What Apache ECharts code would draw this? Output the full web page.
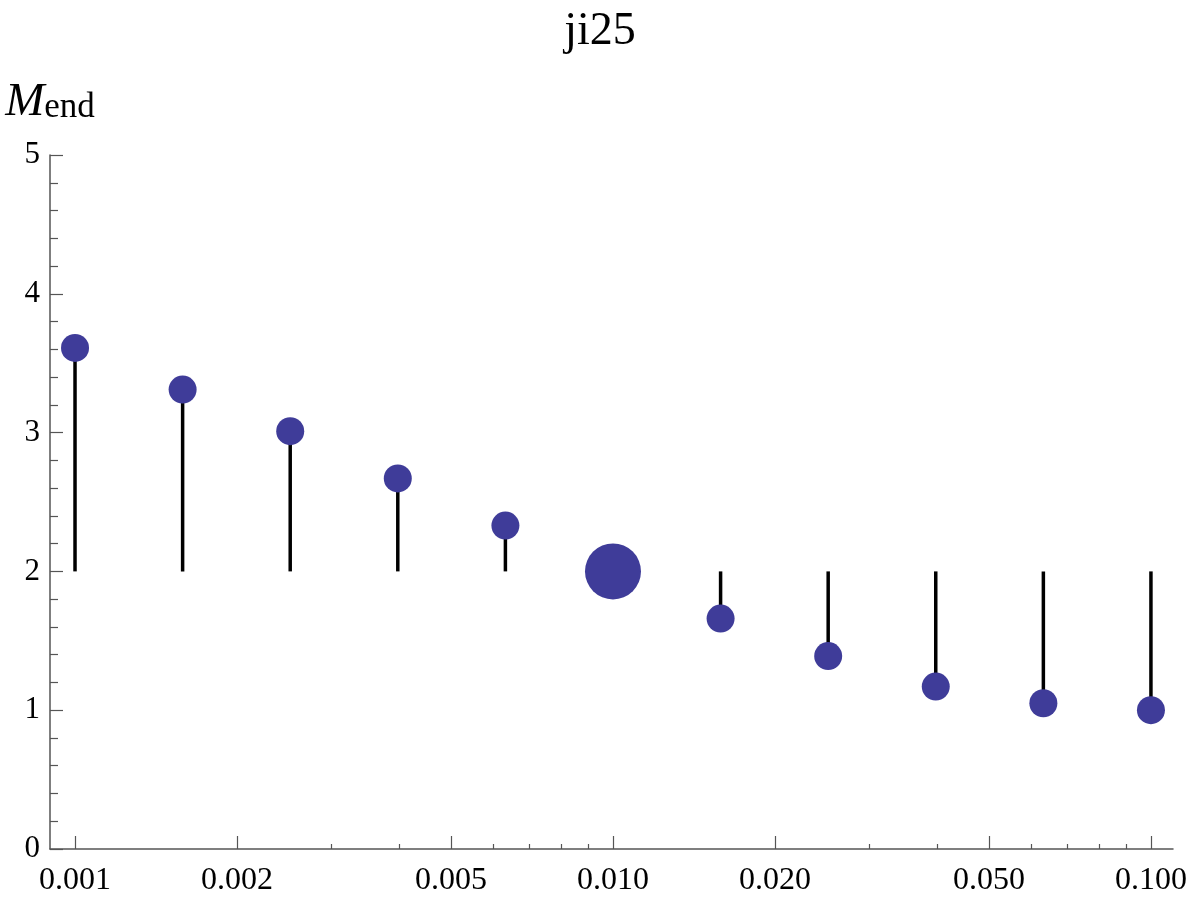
<!DOCTYPE html>
<html>
<head>
<meta charset="utf-8">
<title>ji25</title>
<script src="https://cdn.jsdelivr.net/npm/echarts@6/dist/echarts.min.js"></script>
<style>
  html, body { margin: 0; padding: 0; background: #fff; }
  #chart { width: 1200px; height: 900px; }
</style>
</head>
<body>
<div id="chart"></div>
<script>
// x 值 (对数刻度)
var xValues = [0.001, 0.001585, 0.002512, 0.003981, 0.00631, 0.01, 0.01585, 0.02512, 0.03981, 0.0631, 0.1];
// M_end
var mEnd = [3.61, 3.31, 3.01, 2.67, 2.33, 2.0, 1.66, 1.39, 1.17, 1.05, 1.0];
// 主刻度 / 次刻度
var majorTicks = [0.001, 0.002, 0.005, 0.01, 0.02, 0.05, 0.1];
var minorTicks = [0.003, 0.004, 0.006, 0.007, 0.008, 0.009, 0.03, 0.04, 0.06, 0.07, 0.08, 0.09];
var stemBase = 2;
var refIndex = 5; // 大圆点

var log10 = function (v) { return Math.log10(v); };
var points = xValues.map(function (x, i) { return [log10(x), mEnd[i]]; });

var serif = '"Liberation Serif", "DejaVu Serif", serif';
var axisColor = '#555';
var xMin = -3.0465, xMax = -0.959;

var chart = echarts.init(document.getElementById('chart'));
var option = {
  backgroundColor: '#fff',
  animation: false,
  title: {
    text: 'ji25',
    left: 'center',
    top: 4,
    textStyle: { fontFamily: serif, fontSize: 46, fontWeight: 'normal', color: '#000' }
  },
  grid: { left: 50, right: 27, top: 155, bottom: 51, containLabel: false },
  xAxis: [
    {
      type: 'value',
      min: xMin,
      max: xMax,
      axisLine: { show: true, lineStyle: { color: axisColor, width: 1.5 } },
      axisTick: {
        show: true, inside: true, length: 13,
        customValues: majorTicks.map(log10),
        lineStyle: { color: axisColor, width: 1.2 }
      },
      axisLabel: {
        customValues: majorTicks.map(log10),
        formatter: function (v) { return Math.pow(10, v).toFixed(3); },
        fontFamily: serif, fontSize: 32, color: '#000', margin: 16
      },
      splitLine: { show: false }
    },
    {
      type: 'value',
      min: xMin,
      max: xMax,
      position: 'bottom',
      axisLine: { show: false },
      axisTick: {
        show: true, inside: true, length: 5,
        customValues: minorTicks.map(log10),
        lineStyle: { color: axisColor, width: 1.2 }
      },
      axisLabel: { show: false },
      splitLine: { show: false }
    }
  ],
  yAxis: {
    type: 'value',
    min: 0,
    max: 5,
    interval: 1,
    name: '{m|M}{s|end}',
    nameLocation: 'end',
    nameGap: 30,
    nameTextStyle: {
      align: 'center',
      rich: {
        m: { fontFamily: serif, fontSize: 47, fontStyle: 'italic', color: '#000', lineHeight: 46, verticalAlign: 'top' },
        s: { fontFamily: serif, fontSize: 35, color: '#000', lineHeight: 46, padding: [12, 0, 0, 0] }
      }
    },
    axisLine: { show: true, lineStyle: { color: axisColor, width: 1.5 } },
    axisTick: { show: true, inside: true, length: 13, lineStyle: { color: axisColor, width: 1.2 } },
    minorTick: { show: true, splitNumber: 5, length: 8, lineStyle: { color: axisColor, width: 1.2 } },
    axisLabel: { fontFamily: serif, fontSize: 31, color: '#000', margin: 10 },
    splitLine: { show: false }
  },
  series: [
    {
      name: 'stem',
      type: 'custom',
      data: points,
      renderItem: function (params, api) {
        var p0 = api.coord([api.value(0), stemBase]);
        var p1 = api.coord([api.value(0), api.value(1)]);
        return {
          type: 'line',
          shape: { x1: p0[0], y1: p0[1], x2: p1[0], y2: p1[1] },
          style: { stroke: '#000', lineWidth: 3.5 }
        };
      },
      z: 1
    },
    {
      name: 'M_end',
      type: 'scatter',
      data: points,
      symbolSize: function (val, params) {
        return params.dataIndex === refIndex ? 56 : 28;
      },
      itemStyle: { color: '#3f3c99', opacity: 1 },
      z: 2
    }
  ]
};
chart.setOption(option);
</script>
</body>
</html>
